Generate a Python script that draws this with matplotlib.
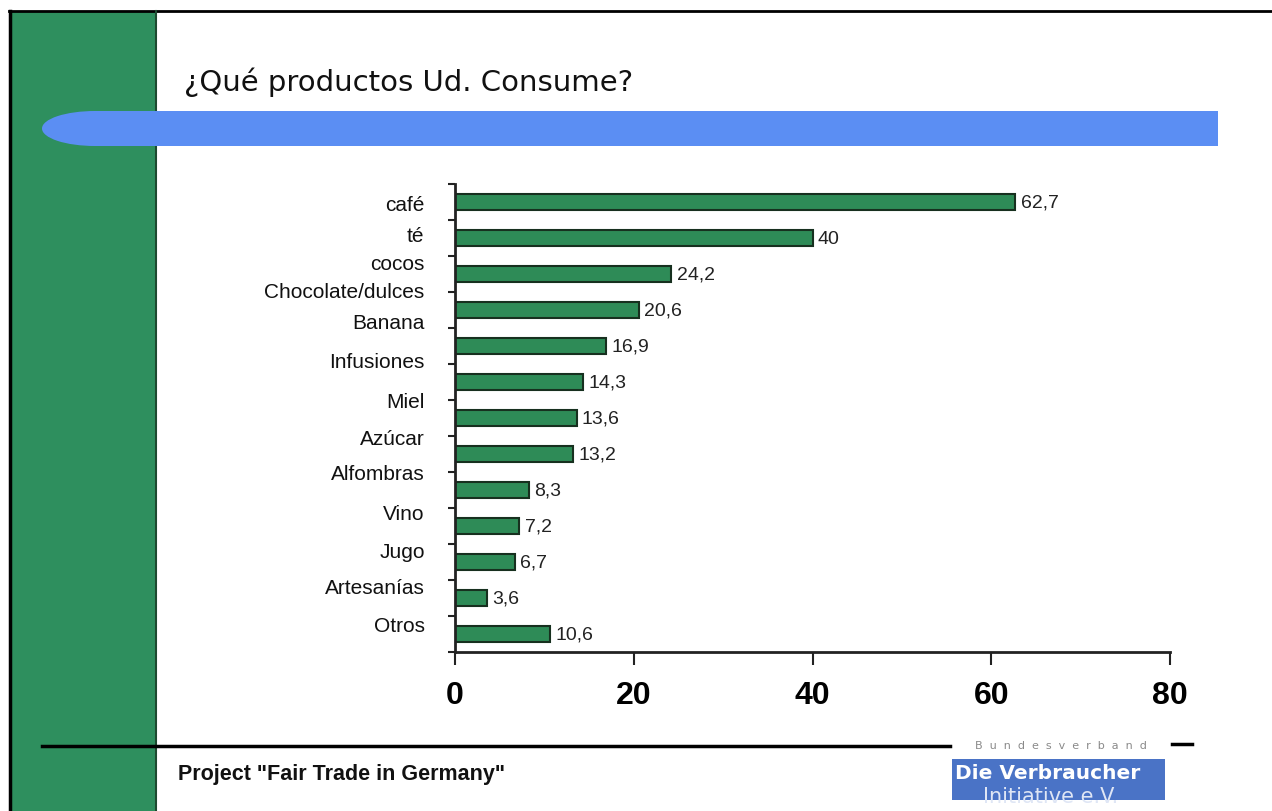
import matplotlib
matplotlib.use("Agg")
import matplotlib.pyplot as plt
from matplotlib.patches import Rectangle, Ellipse

# Survey data: which Fair Trade products people buy (%)
products = ["café", "té", "cocos", "Chocolate/dulces", "Banana", "Infusiones",
            "Miel", "Azúcar", "Alfombras", "Vino", "Jugo", "Artesanías", "Otros"]
shares = [62.7, 40, 24.2, 20.6, 16.9, 14.3, 13.6, 13.2, 8.3, 7.2, 6.7, 3.6, 10.6]
x_ticks = [0, 20, 40, 60, 80]

# vertical nudge of each category name relative to its bar (in bar slots)
label_nudge = [0.08, -0.06, -0.28, -0.5, -0.64, -0.58, -0.47, -0.44,
               -0.47, -0.36, -0.30, -0.30, -0.25]

W, H = 1272, 812
fig = plt.figure(figsize=(W / 100, H / 100), dpi=100)
fig.patch.set_facecolor("white")

# slide background drawn in pixel coordinates
bg = fig.add_axes([0, 0, 1, 1], zorder=0)
bg.set_xlim(0, W)
bg.set_ylim(H, 0)
bg.axis("off")

green = "#2E8F5E"
bg.add_patch(Rectangle((9, 12), 147, H, facecolor=green, edgecolor="none"))
bg.plot([9.5, 9.5], [12, H], color="black", lw=2.5)
bg.plot([9, W], [12, 12], color="black", lw=2)
bg.plot([156, 156], [12, H], color="#1d4a30", lw=1.5)

blue = "#5B8EF3"
bg.add_patch(Ellipse((95, 129.5), 106, 35, facecolor=blue, edgecolor="none", zorder=3))
bg.add_patch(Rectangle((95, 112), 1218 - 95, 35, facecolor=blue, edgecolor="none", zorder=3))

bg.text(184, 82, "¿Qué productos Ud. Consume?", fontsize=21, color="#111111",
        family="DejaVu Sans", va="center", ha="left")

# footer rule and project name
bg.plot([42, 950], [747, 747], color="black", lw=2.5, zorder=3)
bg.plot([1172, 1192], [745, 745], color="black", lw=2.5)
bg.text(178, 775, 'Project "Fair Trade in Germany"', fontsize=15.5, fontweight="bold",
        color="#111111", family="Liberation Sans", va="center", ha="left")

# association logo
bg.text(1061, 746, "  ".join("Bundesverband"), fontsize=8, color="#8a8a8a",
        ha="center", va="center")
box = Rectangle((952, 760), 213, 41, facecolor="#4A73C6", edgecolor="none")
bg.add_patch(box)
bg.text(955, 774, "Die Verbraucher", fontsize=14.5, fontweight="bold", color="white",
        family="DejaVu Sans", ha="left", va="center")
sub = bg.text(983, 797, "Initiative e.V.", fontsize=15, color="#dfe6f5",
              family="DejaVu Sans", ha="left", va="center")
sub.set_clip_path(box)

# bar chart
ax = fig.add_axes([455 / W, (H - 653) / H, (1170 - 455) / W, (653 - 185) / H], zorder=2)
ax.patch.set_alpha(0)
pos = list(range(len(products)))
ax.barh(pos, shares, height=0.42, color="#2E8B57", edgecolor="#17301f", linewidth=1.5)
ax.set_xlim(0, 80)
ax.set_ylim(len(products) - 0.5, -0.5)

for i, v in enumerate(shares):
    txt = f"{v:g}".replace(".", ",")
    ax.text(v + 0.6, i, txt, fontsize=14, color="#222222", family="Liberation Sans",
            va="center", ha="left")

for i, name in enumerate(products):
    ax.text(-3.4, i + label_nudge[i], name, fontsize=15, color="#111111",
            family="Liberation Sans", va="center", ha="right")

ax.set_yticks([i - 0.5 for i in range(len(products) + 1)])
ax.set_yticklabels([])
ax.set_xticks(x_ticks)
ax.set_xticklabels([str(t) for t in x_ticks], fontsize=23, fontweight="bold",
                   family="Liberation Sans")
ax.tick_params(axis="y", direction="out", length=5, width=1.5, color="#222222")
ax.tick_params(axis="x", direction="out", length=9, width=1.5, color="#222222", pad=11)
for side in ["top", "right"]:
    ax.spines[side].set_visible(False)
for side in ["left", "bottom"]:
    ax.spines[side].set_linewidth(2)
    ax.spines[side].set_color("#222222")

fig.savefig("out.png", dpi=100, facecolor="white")
